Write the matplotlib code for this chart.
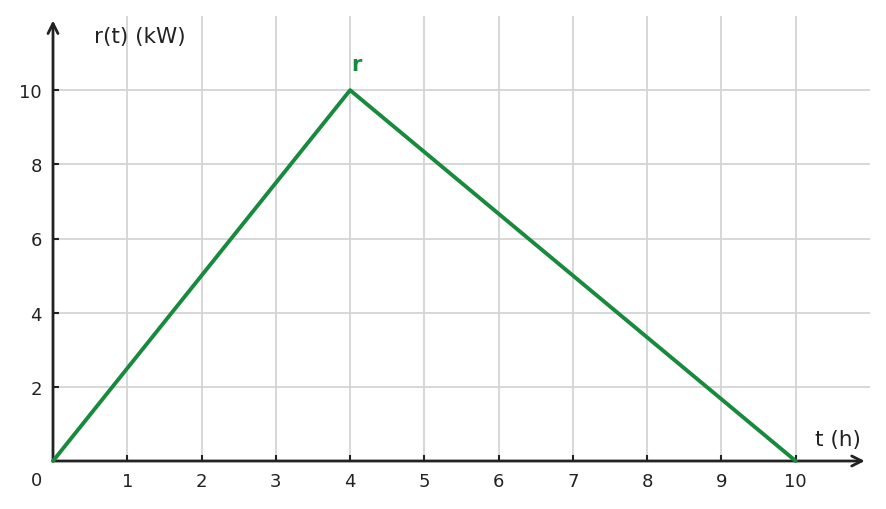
import matplotlib.pyplot as plt

# piecewise linear power profile
t = [0, 4, 10]
r = [0, 10, 0]
xticks = [1, 2, 3, 4, 5, 6, 7, 8, 9, 10]
yticks = [2, 4, 6, 8, 10]

green = '#178a3e'
ink = '#222222'

fig = plt.figure(figsize=(8.87, 5.10), dpi=100)
ax = fig.add_axes([53 / 887, 48 / 510, 817 / 887, 445 / 510])

ax.set_xlim(0, 11)
ax.set_ylim(0, 12)
ax.set_xticks(xticks)
ax.set_yticks(yticks)
ax.grid(True, color='#d4d4d4', lw=1.3)
ax.set_axisbelow(True)
for s in ax.spines.values():
    s.set_visible(False)
ax.tick_params(direction='in', length=4, width=1.5, color=ink,
               labelsize=13, labelcolor=ink, pad=8)

# axes with arrows
ax.annotate('', xy=(10.93, 0), xytext=(0, 0),
            arrowprops=dict(arrowstyle='->', lw=2, color=ink, mutation_scale=18,
                            shrinkA=0, shrinkB=0), annotation_clip=False)
ax.annotate('', xy=(0, 11.88), xytext=(0, 0),
            arrowprops=dict(arrowstyle='->', lw=2, color=ink, mutation_scale=18,
                            shrinkA=0, shrinkB=0), annotation_clip=False)

ax.plot(t, r, color=green, lw=2.8, solid_capstyle='round', clip_on=False, zorder=3)

ax.text(-0.22, -0.5, '0', fontsize=13, color=ink, ha='center', va='center')
ax.text(0.55, 11.45, 'r(t) (kW)', fontsize=15.5, color=ink, ha='left', va='center')
ax.text(10.88, 0.58, 't (h)', fontsize=15.5, color=ink, ha='right', va='center')
ax.text(4.08, 10.7, 'r', fontsize=15, color=green, fontweight='bold',
        ha='center', va='center')

fig.savefig('out.png', dpi=100)
